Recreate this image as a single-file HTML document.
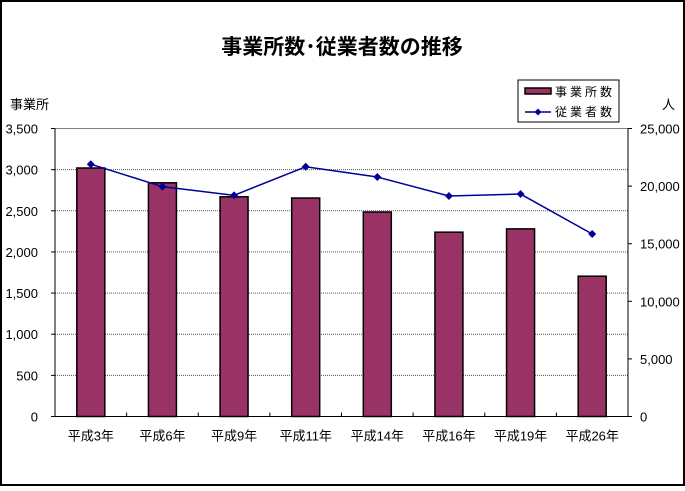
<!DOCTYPE html>
<html><head><meta charset="utf-8">
<style>
body{margin:0;background:#fff;}
svg text{font-family:"Liberation Sans","Noto Sans CJK JP",sans-serif;}
</style></head>
<body>
<svg width="685" height="486" viewBox="0 0 685 486">
<rect x="1" y="1" width="683" height="484" fill="#fff" stroke="#000" stroke-width="2"/>
<text x="342" y="54" text-anchor="middle" font-size="21" font-weight="bold">事業所数･従業者数の推移</text>
<text x="10" y="109" font-size="13">事業所</text>
<text x="662" y="109" font-size="13">人</text>
<g id="grid"></g>
<g id="bars"></g>
<g id="line"></g>
<g id="axes"></g>
<g>
<rect x="518" y="80" width="101" height="42" fill="#fff" stroke="#000" stroke-width="1"/>
<rect x="525" y="88" width="26" height="6" fill="#993366" stroke="#000" stroke-width="1.5"/>
<text x="555" y="96" font-size="12" letter-spacing="3">事業所数</text>
<line x1="525" y1="112" x2="551" y2="112" stroke="#000099" stroke-width="1.5"/>
<path d="M538 108.5 L541.5 112 L538 115.5 L534.5 112 Z" fill="#000099"/>
<text x="555" y="116" font-size="12" letter-spacing="3">従業者数</text>
</g>
</svg>
<script>
const categories=["平成3年","平成6年","平成9年","平成11年","平成14年","平成16年","平成19年","平成26年"];
const establishments=[3020,2840,2670,2655,2485,2240,2280,1705];
const workers=[21900,19950,19200,21680,20790,19140,19310,15840];
const leftTicks=[0,500,1000,1500,2000,2500,3000,3500];
const rightTicks=[0,5000,10000,15000,20000,25000];
const NS="http://www.w3.org/2000/svg";
const X0=55,X1=628,Y0=416.5,Y1=128.5;
const catW=(X1-X0)/categories.length;
const yL=v=>Y0-(v/3500)*(Y0-Y1);
const yR=v=>Y0-(v/25000)*(Y0-Y1);
const xC=i=>X0+catW*(i+0.5);
function mk(tag,attrs,parent){const e=document.createElementNS(NS,tag);for(const k in attrs)e.setAttribute(k,attrs[k]);document.getElementById(parent).appendChild(e);return e;}
// plot area
let pa=mk('rect',{x:X0,y:Y1,width:X1-X0,height:Y0-Y1,fill:'#fff',stroke:'#808080','stroke-width':1},'grid');


leftTicks.forEach(t=>{
 if(t>0&&t<3500){const g=mk('line',{x1:X0,x2:X1,y1:yL(t),y2:yL(t),stroke:'#555','stroke-dasharray':'1,1','stroke-width':1},'grid');
 
 }
 const tx=mk('text',{x:X0-17,y:yL(t)+5,'text-anchor':'end','font-size':'13'},'axes');tx.textContent=t.toLocaleString('en-US');
 
 
 const tk=mk('line',{x1:X0-4,x2:X0,y1:yL(t),y2:yL(t),stroke:'#000'},'axes');
 
 
});
rightTicks.forEach(t=>{
 const tx=mk('text',{x:X1+12,y:yR(t)+5,'font-size':'13'},'axes');tx.textContent=t.toLocaleString('en-US');
 
 
 const tk=mk('line',{x1:X1,x2:X1+4,y1:yR(t),y2:yR(t),stroke:'#000'},'axes');
 
 
});
let ax=mk('line',{x1:X0,x2:X0,y1:Y1,y2:Y0,stroke:'#000'},'axes');


ax=mk('line',{x1:X1,x2:X1,y1:Y1,y2:Y0,stroke:'#000'},'axes');


ax=mk('line',{x1:X0,x2:X1,y1:Y0,y2:Y0,stroke:'#000'},'axes');


categories.forEach((c,i)=>{
 const tk=mk('line',{x1:X0+catW*(i+1),x2:X0+catW*(i+1),y1:Y0,y2:Y0-4,stroke:'#000'},'axes');
 
 
 const tx=mk('text',{x:xC(i),y:Y0+24,'text-anchor':'middle','font-size':'13'},'axes');tx.textContent=c;
 
 
 const b=mk('rect',{x:xC(i)-14,y:yL(establishments[i]),width:28,height:Y0-yL(establishments[i]),fill:'#993366',stroke:'#000','stroke-width':1.5},'bars');
 
 
});
const pts=workers.map((v,i)=>xC(i)+','+yR(v)).join(' ');
const pl=mk('polyline',{points:pts,fill:'none',stroke:'#000099','stroke-width':1.5},'line');


workers.forEach((v,i)=>{
 const x=xC(i),y=yR(v);
 const m=mk('path',{d:`M${x} ${y-4}L${x+4} ${y}L${x} ${y+4}L${x-4} ${y}Z`,fill:'#000099'},'line');
 
 
});
</script>
</body></html>
